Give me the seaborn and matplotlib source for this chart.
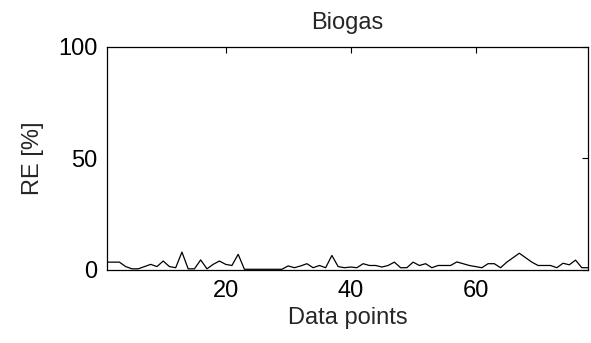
import numpy as np
import seaborn as sns
import matplotlib.pyplot as plt

# data
data_points = np.arange(1, 79)
re_values = [3.5, 3.5, 3.5, 1.5, 0.5, 0.5, 1.5, 2.5, 1.5, 4.0,
             1.5, 1.0, 8.0, 0.5, 0.5, 4.5, 0.5, 2.5, 4.0, 2.5,
             2.0, 7.0, 0.3, 0.3, 0.3, 0.3, 0.3, 0.3, 0.3, 1.8,
             1.0, 1.8, 2.8, 1.0, 2.0, 1.0, 6.5, 1.5, 1.0, 1.3,
             1.0, 2.8, 2.0, 2.0, 1.3, 2.0, 3.5, 1.0, 1.0, 3.5,
             2.0, 2.8, 1.0, 2.0, 2.0, 2.0, 3.6, 2.8, 2.0, 1.5,
             1.0, 2.8, 2.8, 1.0, 3.5, 5.5, 7.5, 5.5, 3.5, 2.0,
             2.0, 2.0, 1.0, 3.0, 2.3, 4.4, 1.0, 1.0]
x_ticks = [20, 40, 60]
y_ticks = [0, 50, 100]

sns.set_style("white")
plt.rcParams['font.family'] = ['Liberation Sans', 'DejaVu Sans']

fig = plt.figure(figsize=(5.91, 3.43), dpi=100)
ax = fig.add_axes([0.181, 0.213, 0.814, 0.650])

sns.lineplot(x=data_points, y=re_values, color='black', linewidth=0.9, ax=ax)

ax.set_xlim(1, 78)
ax.set_ylim(0, 100)
ax.set_xticks(x_ticks)
ax.set_yticks(y_ticks)
ax.tick_params(direction='in', length=4, width=0.8, top=True, right=True,
               labelsize=17, pad=7, colors='black')
for s in ax.spines.values():
    s.set_visible(True)
    s.set_color('black')
    s.set_linewidth(0.9)

ax.set_xlabel("Data points", fontsize=17, labelpad=4)
ax.set_ylabel("RE [%]", fontsize=17, labelpad=10)
ax.set_title("Biogas", fontsize=17, pad=13)

plt.savefig("out.png", dpi=100)
